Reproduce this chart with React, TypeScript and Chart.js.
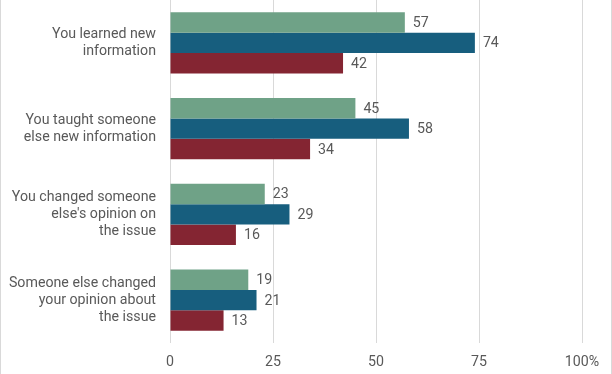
import React, { useEffect, useRef } from "react";
import { Chart, registerables } from "chart.js";

Chart.register(...registerables);

const categories: string[][] = [
  ["You learned new", "information"],
  ["You taught someone", "else new information"],
  ["You changed someone", "else's opinion on", "the issue"],
  ["Someone else changed", "your opinion about", "the issue"],
];
const seriesGreen = [57, 45, 23, 19];
const seriesBlue = [74, 58, 29, 21];
const seriesRed = [42, 34, 16, 13];
const seriesNames = ["Series 1", "Series 2", "Series 3"];
const xTickValues = [0, 25, 50, 75, 100];

const TEXT = "#595959";
const GRID = "#D9D9D9";

const valueLabels = {
  id: "valueLabels",
  afterDatasetsDraw(chart: any) {
    const ctx = chart.ctx;
    ctx.save();
    ctx.font = "14.2px Roboto";
    ctx.fillStyle = TEXT;
    ctx.textAlign = "left";
    ctx.textBaseline = "middle";
    chart.data.datasets.forEach((ds: any, i: number) => {
      const meta = chart.getDatasetMeta(i);
      meta.data.forEach((bar: any, j: number) => {
        ctx.fillText(String(ds.data[j]), bar.x + 8, bar.y + 1);
      });
    });
    ctx.restore();
  },
};

export default function App() {
  const ref = useRef<HTMLCanvasElement | null>(null);
  useEffect(() => {
    if (!ref.current) return;
    Chart.defaults.font.family = "Roboto";
    Chart.defaults.font.size = 14.2;
    Chart.defaults.color = TEXT;
    const chart = new Chart(ref.current, {
      type: "bar",
      data: {
        labels: categories as any,
        datasets: [
          { label: seriesNames[0], data: seriesGreen, backgroundColor: "#6FA287" },
          { label: seriesNames[1], data: seriesBlue, backgroundColor: "#175E7E" },
          { label: seriesNames[2], data: seriesRed, backgroundColor: "#842532" },
        ],
      },
      options: {
        indexAxis: "y",
        responsive: false,
        animation: false,
        layout: { padding: { top: 0, right: 29, bottom: 0, left: 0 } },
        plugins: { legend: { display: false }, tooltip: { enabled: false } },
        datasets: { bar: { categoryPercentage: 0.715, barPercentage: 1 } },
        scales: {
          x: {
            min: 0,
            max: 100,
            afterBuildTicks: (scale: any) => {
              scale.ticks = xTickValues.map((v) => ({ value: v }));
            },
            afterFit: (scale: any) => {
              scale.height = 31;
            },
            ticks: {
              padding: 11,
              color: TEXT,
              font: { size: 14.2 },
              callback: (v: any) => (Number(v) === 100 ? "100%" : String(v)),
            },
            grid: { color: GRID, lineWidth: 1, drawTicks: false },
            border: { display: false },
          },
          y: {
            afterFit: (scale: any) => {
              scale.width = 169;
              scale.paddingTop = 0;
              scale.paddingBottom = 0;
            },
            ticks: { padding: 14, color: TEXT, font: { size: 14.2, lineHeight: 1.2 } },
            grid: { display: false, drawTicks: false },
            border: { display: false },
          },
        },
      },
      plugins: [valueLabels],
    });
    return () => chart.destroy();
  }, []);
  return (
    <div
      style={{
        position: "fixed",
        left: 0,
        top: 0,
        width: 612,
        height: 374,
        boxSizing: "border-box",
        borderLeft: `1px solid ${GRID}`,
        borderRight: `1px solid ${GRID}`,
        background: "#fff",
      }}
    >
      <canvas ref={ref} width={610} height={374} style={{ display: "block" }} />
    </div>
  );
}
